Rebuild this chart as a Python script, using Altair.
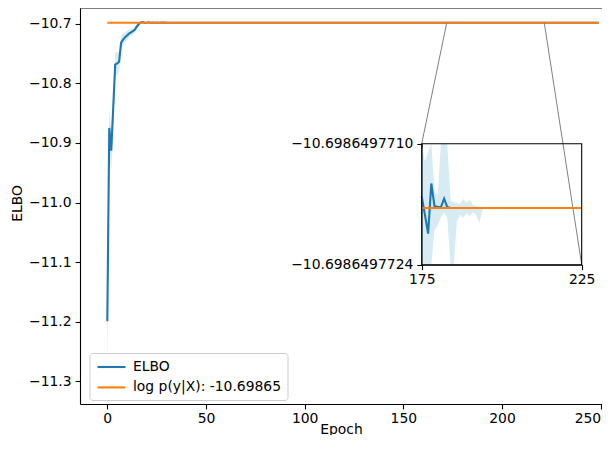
import altair as alt
import pandas as pd

# ---------------- values ----------------
epochs_early = list(range(0, 31))
elbo_early = [-11.199, -10.875, -10.913, -10.842, -10.769, -10.767, -10.764, -10.732,
              -10.727, -10.723, -10.720, -10.717, -10.715, -10.713, -10.710, -10.705,
              -10.7008, -10.6983, -10.6975, -10.6992, -10.6986, -10.6980, -10.6988,
              -10.6984, -10.6987, -10.6985, -10.6987, -10.6986, -10.6986, -10.6986, -10.69865]
sd_early = [0.104, 0.03, 0.035, 0.03, 0.02, 0.02, 0.015, 0.012, 0.01, 0.008, 0.008,
            0.006, 0.006, 0.005, 0.005, 0.004, 0.003, 0.0025, 0.002, 0.002, 0.0015,
            0.0012, 0.001, 0.0012, 0.0008, 0.001, 0.0006, 0.0008, 0.0005, 0.0003, 0.0001]

epochs_zoom = list(range(175, 196))
elbo_zoom = [-10.69864977161, -10.69864977182, -10.69864977204, -10.69864977146,
             -10.698649771725, -10.69864977173, -10.698649771733, -10.698649771636,
             -10.698649771733, -10.698649771744, -10.698649771744, -10.698649771744,
             -10.698649771744, -10.698649771744, -10.698649771744, -10.698649771744,
             -10.698649771744, -10.698649771744, -10.698649771744, -10.698649771744,
             -10.698649771744]
upper_zoom = [-10.6986497690, -10.6986497712, -10.6986497711, -10.6986497690,
              -10.69864977155, -10.6986497716, -10.6986497705, -10.6986497705,
              -10.6986497709, -10.69864977165, -10.69864977168, -10.69864977168,
              -10.6986497717, -10.69864977164, -10.69864977169, -10.69864977165,
              -10.69864977171, -10.69864977172, -10.69864977173, -10.69864977174,
              -10.698649771744]
lower_zoom = [-10.6986497740, -10.6986497740, -10.6986497740, -10.69864977250,
              -10.6986497720, -10.69864977195, -10.69864977185, -10.6986497718,
              -10.69864977185, -10.69864977245, -10.6986497750, -10.6986497719,
              -10.69864977182, -10.69864977186, -10.6986497718, -10.69864977184,
              -10.69864977179, -10.69864977182, -10.69864977192, -10.69864977176,
              -10.698649771744]

final_epoch = 249
elbo_final = -10.698649771744
log_evidence = -10.698649771744
evidence_label = f"log p(y|X): {log_evidence:.5f}"

x_ticks = [0, 50, 100, 150, 200, 250]
y_ticks = [-11.3, -11.2, -11.1, -11.0, -10.9, -10.8, -10.7]
zoom_x = [175, 225]
zoom_y = [-10.6986497724, -10.6986497710]
indicator_x = [172.0, 221.4]   # where the connector lines leave the main curve

x_domain = [-13.83, 250.66]
y_domain = [-11.33771, -10.67402]
# inset placement, in data coordinates of the main axes
inset_box_x = [159.31, 240.37]
inset_box_y = [-11.10422, -10.90144]

W, H = 522, 396
BLUE, ORANGE = "#1f77b4", "#ff7f0e"
FONT = "DejaVu Sans"
FS = 13.9

# ---------------- tables ----------------
rows = []
for e, m, s in zip(epochs_early, elbo_early, sd_early):
    rows.append({"epoch": e, "elbo": m, "lower": m - s, "upper": m + s})
for e, m, lo, up in zip(epochs_zoom, elbo_zoom, lower_zoom, upper_zoom):
    rows.append({"epoch": e, "elbo": m, "lower": lo, "upper": up})
rows.append({"epoch": final_epoch, "elbo": elbo_final, "lower": elbo_final, "upper": elbo_final})
df = pd.DataFrame(rows)
df["series"] = "ELBO"

ev_main = pd.DataFrame({"epoch": [epochs_early[0], final_epoch],
                        "value": [log_evidence, log_evidence],
                        "series": [evidence_label, evidence_label]})
ev_zoom = pd.DataFrame({"epoch": zoom_x, "value": [log_evidence, log_evidence]})
connectors = pd.DataFrame({"x0": indicator_x, "y0": [log_evidence, log_evidence],
                           "x1": [inset_box_x[0], inset_box_x[1]],
                           "y1": [inset_box_y[1], inset_box_y[0]]})
spine = pd.DataFrame({"x0": [x_domain[0]], "x1": [x_domain[1]], "y": [y_domain[1]]})
frame = pd.DataFrame({"x0": [zoom_x[0]], "x1": [zoom_x[1]], "y0": [zoom_y[0]], "y1": [zoom_y[1]]})


def to_px_x(v):
    return (v - x_domain[0]) / (x_domain[1] - x_domain[0]) * W


def to_px_y(v):
    return (y_domain[1] - v) / (y_domain[1] - y_domain[0]) * H


inset_range_x = [to_px_x(inset_box_x[0]), to_px_x(inset_box_x[1])]
inset_range_y = [to_px_y(inset_box_y[0]), to_px_y(inset_box_y[1])]

# ---------------- scales / axes ----------------
xs = alt.Scale(domain=x_domain, nice=False, zero=False)
ys = alt.Scale(domain=y_domain, nice=False, zero=False)
zxs = alt.Scale(domain=zoom_x, range=inset_range_x, nice=False, zero=False, clamp=True)
zys = alt.Scale(domain=zoom_y, range=inset_range_y, nice=False, zero=False, clamp=True)

last_tick = x_ticks[-1]
x_axis = alt.Axis(values=x_ticks, format="d", title="Epoch", labelFlush=False,
                  labelPadding=3, titleY=29, titleBaseline="alphabetic", orient="bottom",
                  labelAlign={"expr": f"datum.value == {last_tick} ? 'right' : 'center'"})
y_axis = alt.Axis(values=y_ticks, format=".1f", title="ELBO", labelFlush=False,
                  labelPadding=4, titleX=-63, titleY=195, titleBaseline="middle",
                  orient="left")
zx_axis = alt.Axis(orient="bottom", offset=-(H - inset_range_y[0]), values=zoom_x,
                   format="d", title="", labelFlush=False, labelPadding=3)
zy_axis = alt.Axis(orient="left", offset=-inset_range_x[0], values=zoom_y,
                   format=".10f", title="", labelFlush=False, labelPadding=4)

color = alt.Color("series:N",
                  scale=alt.Scale(domain=["ELBO", evidence_label], range=[BLUE, ORANGE]),
                  legend=alt.Legend(title=None, orient="none", legendX=9.5, legendY=345,
                                    symbolType="M-2,0H2", symbolSize=196,
                                    symbolStrokeWidth=2.1, labelFontSize=FS,
                                    labelFont=FONT, labelColor="black",
                                    padding=5.5, rowPadding=4.4, symbolOffset=8,
                                    labelOffset=13, fillColor="rgba(255,255,255,0.8)",
                                    strokeColor="#cccccc", cornerRadius=3))


def mx(field):
    return alt.X(field, scale=xs, axis=x_axis)


def my(field):
    return alt.Y(field, scale=ys, axis=y_axis)


def zx(field):
    return alt.X(field, scale=zxs, axis=zx_axis)


def zy(field):
    return alt.Y(field, scale=zys, axis=zy_axis)


# ---------------- main axes ----------------
band = alt.Chart(df).mark_area(color="lightblue", opacity=0.5).encode(
    x=mx("epoch:Q"), y=my("lower:Q"), y2="upper:Q")
line = alt.Chart(df).mark_line(strokeWidth=2.1).encode(
    x=mx("epoch:Q"), y=my("elbo:Q"), color=color)
ev_line = alt.Chart(ev_main).mark_line(strokeWidth=2.1).encode(
    x=mx("epoch:Q"), y=my("value:Q"), color=color)
conn = alt.Chart(connectors).mark_rule(color="#808080", strokeWidth=1).encode(
    x=mx("x0:Q"), x2="x1:Q", y=my("y0:Q"), y2="y1:Q")
top = alt.Chart(spine).mark_rule(color="black", strokeWidth=1.1).encode(
    x=mx("x0:Q"), x2="x1:Q", y=my("y:Q"))
main = alt.layer(band, line, ev_line, conn, top)

# ---------------- inset ----------------
zsrc = alt.Chart(df).transform_filter(
    (alt.datum.epoch >= zoom_x[0]) & (alt.datum.epoch <= zoom_x[1]))
z_band = zsrc.mark_area(color="lightblue", opacity=0.5).encode(
    x=zx("epoch:Q"), y=zy("lower:Q"), y2="upper:Q")
z_line = zsrc.mark_line(strokeWidth=2.1, color=BLUE).encode(
    x=zx("epoch:Q"), y=zy("elbo:Q"))
z_ev = alt.Chart(ev_zoom).mark_line(strokeWidth=2.1, color=ORANGE).encode(
    x=zx("epoch:Q"), y=zy("value:Q"))
z_frame = alt.Chart(frame).mark_rect(fillOpacity=0, stroke="black", strokeWidth=1.1).encode(
    x=zx("x0:Q"), x2="x1:Q", y=zy("y0:Q"), y2="y1:Q")
inset = alt.layer(z_band, z_line, z_ev, z_frame)

chart = alt.layer(main, inset).resolve_scale(
    x="independent", y="independent"
).properties(
    width=W, height=H,
    padding={"left": 72, "top": 0, "right": 0, "bottom": 31},
    autosize=alt.AutoSizeParams(type="none"),
).configure(font=FONT).configure_view(strokeWidth=0).configure_axis(
    grid=False, domainColor="black", domainWidth=1.1, tickColor="black",
    tickWidth=1.1, tickSize=4.9, labelPadding=5.5, labelFontSize=FS,
    titleFontSize=FS, labelColor="black", titleColor="black",
    titleFontWeight="normal", labelFont=FONT, titleFont=FONT,
)

chart.save("out.html", embed_options={"renderer": "svg", "actions": False})
